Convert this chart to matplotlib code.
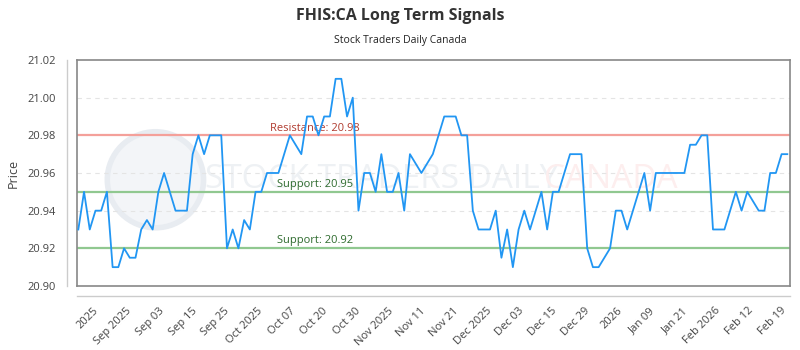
import matplotlib
matplotlib.use('Agg')
import matplotlib.pyplot as plt
import numpy as np
from matplotlib.patches import Ellipse

plt.rcParams['font.family'] = ['Open Sans', 'DejaVu Sans']

# closing prices, one per trading day
prices = [
    20.93, 20.95, 20.93, 20.94, 20.94, 20.95, 20.91, 20.91, 20.92, 20.915,
    20.915, 20.93, 20.935, 20.93, 20.95, 20.96, 20.95, 20.94, 20.94, 20.94,
    20.97, 20.98, 20.97, 20.98, 20.98, 20.98, 20.92, 20.93, 20.92, 20.935,
    20.93, 20.95, 20.95, 20.96, 20.96, 20.96, 20.97, 20.98, 20.975, 20.97,
    20.99, 20.99, 20.98, 20.99, 20.99, 21.01, 21.01, 20.99, 21.00, 20.94,
    20.96, 20.96, 20.95, 20.97, 20.95, 20.95, 20.96, 20.94, 20.97, 20.965,
    20.96, 20.965, 20.97, 20.98, 20.99, 20.99, 20.99, 20.98, 20.98, 20.94,
    20.93, 20.93, 20.93, 20.94, 20.915, 20.93, 20.91, 20.93, 20.94, 20.93,
    20.94, 20.95, 20.93, 20.95, 20.95, 20.96, 20.97, 20.97, 20.97, 20.92,
    20.91, 20.91, 20.915, 20.92, 20.94, 20.94, 20.93, 20.94, 20.95, 20.96,
    20.94, 20.96, 20.96, 20.96, 20.96, 20.96, 20.96, 20.975, 20.975, 20.98,
    20.98, 20.93, 20.93, 20.93, 20.94, 20.95, 20.94, 20.95, 20.945, 20.94,
    20.94, 20.96, 20.96, 20.97, 20.97,
]

date_labels = ['2025', 'Sep 2025', 'Sep 03', 'Sep 15', 'Sep 25', 'Oct 2025',
               'Oct 07', 'Oct 20', 'Oct 30', 'Nov 2025', 'Nov 11', 'Nov 21',
               'Dec 2025', 'Dec 03', 'Dec 15', 'Dec 29', '2026', 'Jan 09',
               'Jan 21', 'Feb 2026', 'Feb 12', 'Feb 19']

resistance = [20.98]
support = [20.95, 20.92]
y_ticks = [20.90, 20.92, 20.94, 20.96, 20.98, 21.00, 21.02]


def main():
    fig = plt.figure(figsize=(8, 3.5), dpi=100)
    ax = fig.add_axes([0.09625, 0.1829, 0.89125, 0.6457])

    x = np.arange(len(prices))

    # faint watermark
    logo = Ellipse((0.11, 0.47), 0.135, 0.425, transform=ax.transAxes,
                   facecolor='#f3f5f8', edgecolor='#e8ecf1', lw=4, zorder=0)
    ax.add_patch(logo)
    ax.text(0.18, 0.47, 'STOCK TRADERS DAILY', transform=ax.transAxes,
            fontsize=24, color='#eef1f4', va='center', ha='left', zorder=0)
    ax.text(0.655, 0.47, 'CANADA', transform=ax.transAxes,
            fontsize=24, color='#fdeeee', va='center', ha='left', zorder=0)

    for yv in [21.00, 20.96, 20.94]:
        ax.axhline(yv, color='#e4e4e4', lw=0.8, ls=(0, (4, 4)), zorder=1)

    for r in resistance:
        ax.axhline(r, color='#f4a09a', lw=1.6, zorder=2)
        ax.text(33.5, r + 0.0005, 'Resistance: %.2f' % r, color='#b03a2e',
                fontsize=8, va='bottom', ha='left', zorder=3)
    for s in support:
        ax.axhline(s, color='#90c890', lw=1.6, zorder=2)
        ax.text(34.8, s + 0.0012, 'Support: %.2f' % s, color='#2e6b2e',
                fontsize=8, va='bottom', ha='left', zorder=3)

    ax.plot(x, prices, color='#2196f3', lw=1.3, zorder=4)

    ax.set_xlim(-0.23, 124.47)
    ax.set_ylim(20.90, 21.02)
    ax.set_yticks(y_ticks)
    ax.set_yticklabels(['%.2f' % v for v in y_ticks])
    ax.set_xticks(np.linspace(2.6, 122.8, len(date_labels)))
    ax.set_xticklabels(date_labels, rotation=45, ha='right',
                       rotation_mode='anchor')
    ax.tick_params(axis='both', length=0, labelsize=8, colors='#444444')
    ax.tick_params(axis='x', pad=14)
    ax.tick_params(axis='y', pad=15)
    for sp in ax.spines.values():
        sp.set_color('#888888')
        sp.set_linewidth(1.2)

    # detached axis lines
    ax.plot([-0.014, -0.014], [0, 1], transform=ax.transAxes,
            color='#cccccc', lw=1, clip_on=False)
    ax.plot([0, 1], [-0.044, -0.044], transform=ax.transAxes,
            color='#cccccc', lw=1, clip_on=False)

    ax.set_ylabel('Price', fontsize=9, color='#444444', labelpad=6)

    fig.text(0.5, 0.955, 'FHIS:CA Long Term Signals', ha='center',
             va='center', fontsize=11.5, fontweight='bold', color='#333333')
    fig.text(0.5, 0.885, 'Stock Traders Daily Canada', ha='center',
             va='center', fontsize=7.5, color='#222222')

    plt.savefig('out.png', dpi=100)


if __name__ == "__main__":
    main()
